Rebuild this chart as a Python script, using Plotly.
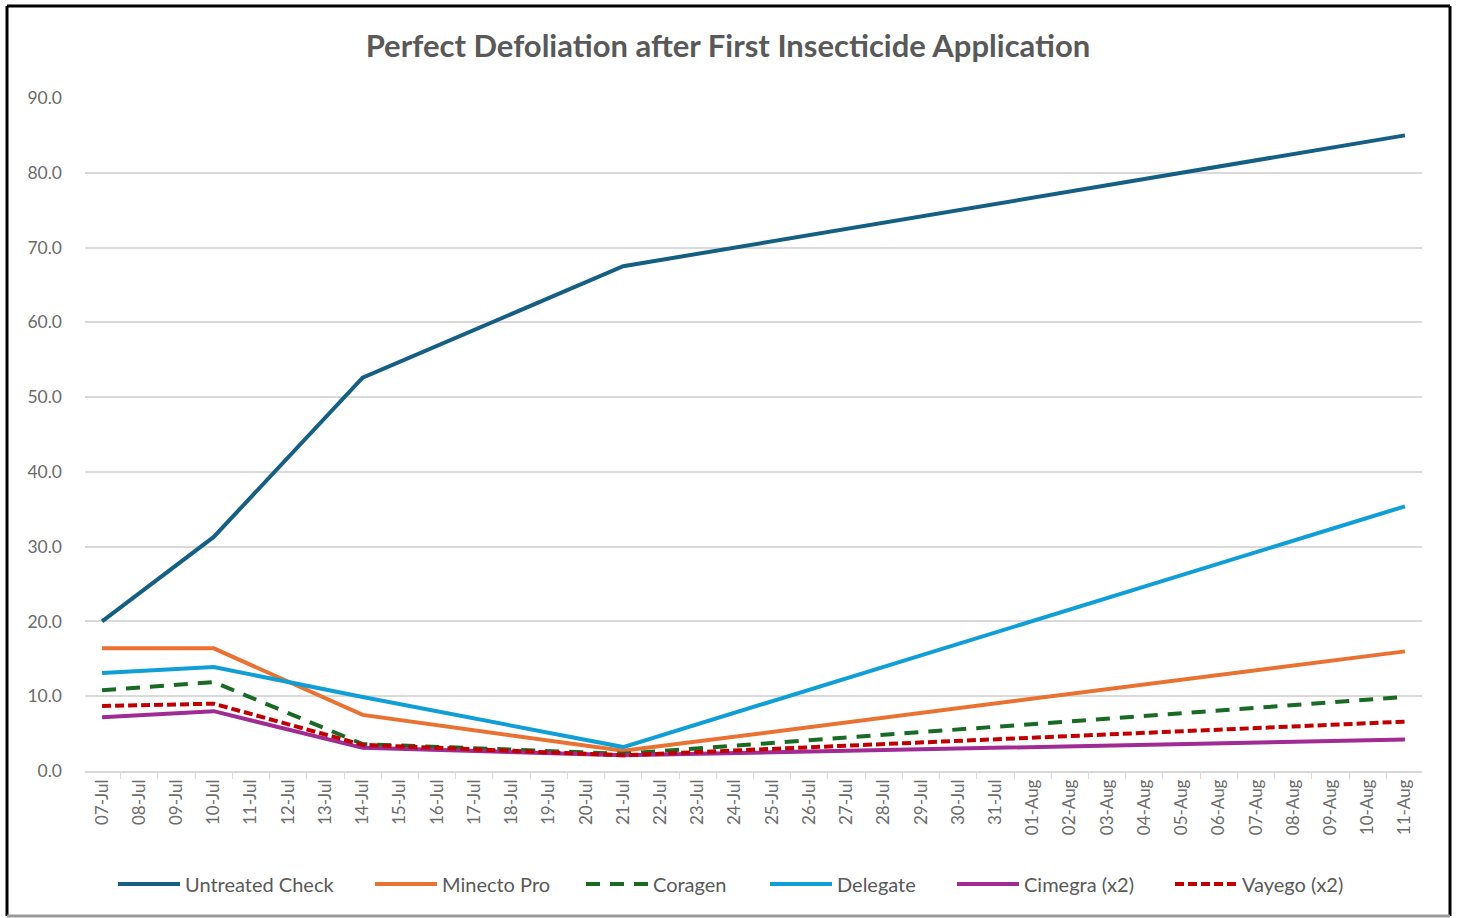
import plotly.graph_objects as go

dates = ["2024-07-07", "2024-07-10", "2024-07-14", "2024-07-21", "2024-08-11"]
untreated = [20.0, 31.3, 52.6, 67.5, 85.0]
minecto = [16.4, 16.4, 7.5, 2.7, 16.0]
coragen = [10.8, 11.9, 3.6, 2.3, 9.9]
delegate = [13.1, 13.9, 9.9, 3.2, 35.4]
cimegra = [7.2, 8.0, 3.1, 2.1, 4.2]
vayego = [8.7, 9.0, 3.5, 2.1, 6.6]

series = [
    ("Untreated Check", untreated, "#156082", "solid"),
    ("Minecto Pro", minecto, "#E97132", "solid"),
    ("Coragen", coragen, "#196B24", "14px,10px"),
    ("Delegate", delegate, "#0F9ED5", "solid"),
    ("Cimegra (x2)", cimegra, "#A02B93", "solid"),
    ("Vayego (x2)", vayego, "#C00000", "9px,4px"),
]
legend_starts = [118, 375, 586, 770, 957, 1175]

W, H = 1457, 918
L, R, T, B = 85, 35, 98, 147
pw, ph = W - L - R, H - T - B

fig = go.Figure()
legends = {}
for i, (name, vals, color, dash) in enumerate(series):
    key = "legend" if i == 0 else f"legend{i + 1}"
    fig.add_trace(go.Scatter(
        x=dates, y=vals, name=name, mode="lines",
        line=dict(color=color, width=4, dash=dash),
        legend=key,
    ))
    legends[key] = dict(
        orientation="h", x=(legend_starts[i] - 5 - L) / pw, xanchor="left",
        y=-113 / ph, yanchor="middle",
        font=dict(size=20, color="#595959"),
        itemwidth=62, bgcolor="rgba(0,0,0,0)",
    )

fig.update_layout(
    width=W, height=H,
    margin=dict(l=L, r=R, t=T, b=B),
    paper_bgcolor="white", plot_bgcolor="white",
    font=dict(family="Lato, Open Sans, sans-serif", color="#595959"),
    title=dict(text="<b>Perfect Defoliation after First Insecticide Application</b>",
               x=(728 - L) / pw, xref="paper", xanchor="center",
               y=1 - 46 / H, yanchor="middle",
               font=dict(size=31, color="#595959")),
    showlegend=True,
    **legends,
)

fig.update_xaxes(
    type="date",
    range=["2024-07-06 13:00", "2024-08-11 11:00"],
    dtick=86400000, tick0="2024-07-07",
    tickformat="%d-%b", tickangle=-90,
    tickfont=dict(size=17, color="#6b6b6b"),
    showgrid=False, showline=True, linecolor="#d9d9d9", linewidth=1.5,
    ticks="",
    minor=dict(ticks="outside", tick0="2024-07-06 12:00", dtick=86400000,
               ticklen=6, tickcolor="#d9d9d9", showgrid=False),
)
fig.update_yaxes(
    range=[0, 90], dtick=10, tickformat=".1f",
    tickfont=dict(size=17.5, color="#6b6b6b"),
    showgrid=True, gridcolor="#d9d9d9", gridwidth=1.5,
    zeroline=False, ticks="", ticklabelstandoff=22,
)

def px_x(v):
    return (v - L) / pw

def px_y(v):
    return ((H - B) - v) / ph

frame = [
    (7, 6, 1450, 6, "black"),
    (7, 6, 7, 916, "black"),
    (1450, 6, 1450, 916, "black"),
    (7, 916, 1450, 916, "#9a9a9a"),
]
for x0, y0, x1, y1, c in frame:
    fig.add_shape(type="line", xref="paper", yref="paper",
                  x0=px_x(x0), y0=px_y(y0), x1=px_x(x1), y1=px_y(y1),
                  line=dict(color=c, width=3), layer="above")

fig.write_html("out.html", config={"displayModeBar": False},
               post_script="document.body.style.margin='0px';")
